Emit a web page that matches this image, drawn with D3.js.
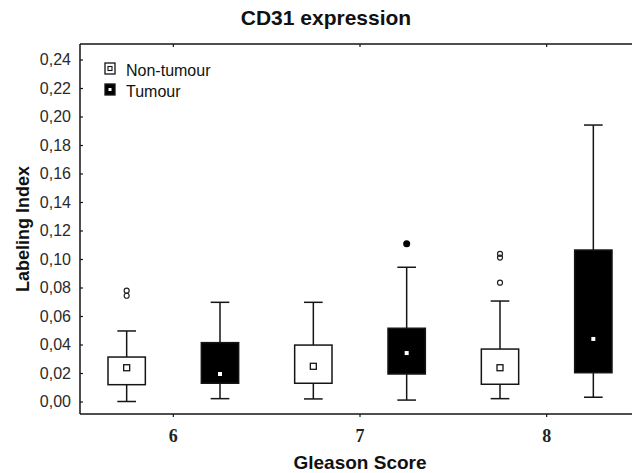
<!DOCTYPE html>
<html><head><meta charset="utf-8">
<script src="https://cdn.jsdelivr.net/npm/d3@7"></script>
<style>body{margin:0;background:#fff}svg{display:block}</style>
</head><body>
<script>
const groups = ['6','7','8'];
const series = ['Non-tumour','Tumour'];
const whiskerLow  = {'Non-tumour':[0.000,0.0018,0.002], 'Tumour':[0.002,0.001,0.003]};
const boxLow      = {'Non-tumour':[0.0118,0.0128,0.0121], 'Tumour':[0.0128,0.0193,0.0202]};
const medians     = {'Non-tumour':[0.0237,0.0247,0.0237], 'Tumour':[0.0193,0.034,0.0439]};
const boxHigh     = {'Non-tumour':[0.0312,0.0396,0.0368], 'Tumour':[0.0413,0.0514,0.1063]};
const whiskerHigh = {'Non-tumour':[0.0495,0.0696,0.0705], 'Tumour':[0.0696,0.0942,0.194]};
const outliers    = {'Non-tumour':[[0.0742,0.0778],[],[0.0834,0.1010,0.1036]], 'Tumour':[[],[0.1107],[]]};
const yTicks = [0,0.02,0.04,0.06,0.08,0.10,0.12,0.14,0.16,0.18,0.20,0.22,0.24];
const title = 'CD31 expression';
const xTitle = 'Gleason Score';
const yTitle = 'Labeling Index';

const W = 632, H = 473;
const L = 80, T = 44, B = 414, R = 640;
const svg = d3.select('body').append('svg').attr('width', W).attr('height', H);

const x = d3.scaleBand().domain(groups).range([L, R]).padding(0);
const xs = d3.scaleBand().domain(series).range([0, x.bandwidth()]).padding(0);
const y = d3.scaleLinear().domain([0, 0.24]).range([401.5, 59.5]);
const fmt = v => d3.format('.2f')(v).replace('.', ',');
const ink = '#151515';

// frame
svg.append('line').attr('x1', L).attr('x2', W).attr('y1', T).attr('y2', T).attr('stroke', ink).attr('stroke-width', 1.5);
svg.append('line').attr('x1', L).attr('x2', L).attr('y1', T).attr('y2', B).attr('stroke', ink).attr('stroke-width', 1.5);

// y axis
const yAxis = d3.axisLeft(y).tickValues(yTicks).tickFormat(fmt).tickSize(-3).tickPadding(9);
const gy = svg.append('g').attr('transform', `translate(${L},0)`).call(yAxis);
gy.select('.domain').remove();
gy.selectAll('line').attr('stroke', ink).attr('stroke-width', 1.2);
gy.selectAll('text').attr('font-family', 'Liberation Sans, Arial, sans-serif').attr('font-size', 16).attr('fill', '#2a2a2a');

// x axis
const xAxis = d3.axisBottom(x).tickSize(3).tickPadding(12);
const gx = svg.append('g').attr('transform', `translate(0,${B})`).call(xAxis);
gx.select('.domain').attr('d', `M${L},0H${W}`).attr('stroke', ink).attr('stroke-width', 1.5);
gx.selectAll('line').attr('stroke', ink).attr('stroke-width', 1.2);
gx.selectAll('text').attr('font-family', 'Liberation Serif, Times New Roman, serif').attr('font-weight', 'bold').attr('font-size', 18).attr('fill', '#222');

// top ticks
svg.append('g').selectAll('line').data(groups).join('line')
  .attr('x1', d => x(d) + x.bandwidth()/2).attr('x2', d => x(d) + x.bandwidth()/2)
  .attr('y1', T).attr('y2', T + 3).attr('stroke', ink).attr('stroke-width', 1.2);

// boxes
const boxW = xs.bandwidth() * 0.4, capW = boxW * 0.5;
series.forEach(s => {
  const tum = s === 'Tumour';
  groups.forEach((g, i) => {
    const cx = x(g) + xs(s) + xs.bandwidth()/2;
    const gg = svg.append('g');
    gg.append('line').attr('x1', cx).attr('x2', cx).attr('y1', y(whiskerLow[s][i])).attr('y2', y(boxLow[s][i])).attr('stroke', ink).attr('stroke-width', 1.5);
    gg.append('line').attr('x1', cx).attr('x2', cx).attr('y1', y(boxHigh[s][i])).attr('y2', y(whiskerHigh[s][i])).attr('stroke', ink).attr('stroke-width', 1.5);
    [whiskerLow[s][i], whiskerHigh[s][i]].forEach(v => {
      gg.append('line').attr('x1', cx - capW/2).attr('x2', cx + capW/2).attr('y1', y(v)).attr('y2', y(v)).attr('stroke', ink).attr('stroke-width', 1.5);
    });
    gg.append('rect').attr('x', cx - boxW/2).attr('width', boxW)
      .attr('y', y(boxHigh[s][i])).attr('height', y(boxLow[s][i]) - y(boxHigh[s][i]))
      .attr('fill', tum ? '#000' : '#fff').attr('stroke', ink).attr('stroke-width', 1.5);
    const ms = tum ? 4 : 6;
    gg.append('rect').attr('x', cx - ms/2).attr('y', y(medians[s][i]) - ms/2).attr('width', ms).attr('height', ms)
      .attr('fill', '#fff').attr('stroke', tum ? 'none' : ink).attr('stroke-width', 1.3);
    outliers[s][i].forEach(v => {
      gg.append('circle').attr('cx', cx).attr('cy', y(v)).attr('r', tum ? 3.5 : 2.5)
        .attr('fill', tum ? '#000' : 'none').attr('stroke', tum ? 'none' : '#222').attr('stroke-width', 1.2);
    });
  });
});

// legend
const lg = svg.append('g');
series.forEach((s, i) => {
  const tum = s === 'Tumour';
  const ly = 63 + i * 21;
  lg.append('rect').attr('x', 105).attr('y', ly).attr('width', 10).attr('height', 11)
    .attr('fill', tum ? '#000' : '#fff').attr('stroke', ink).attr('stroke-width', 1.3);
  const ms = tum ? 3 : 4;
  lg.append('rect').attr('x', 110 - ms/2).attr('y', ly + 5.5 - ms/2).attr('width', ms).attr('height', ms)
    .attr('fill', '#fff').attr('stroke', tum ? 'none' : ink).attr('stroke-width', 1.1);
  lg.append('text').attr('x', 126).attr('y', ly + 12.5).text(s)
    .attr('font-family', 'Liberation Sans, Arial, sans-serif').attr('font-size', 16).attr('fill', '#111');
});

// titles
svg.append('text').attr('x', 326).attr('y', 25).attr('text-anchor', 'middle').text(title)
  .attr('font-family', 'Liberation Sans, Arial, sans-serif').attr('font-weight', 'bold').attr('font-size', 21).attr('fill', '#111');
svg.append('text').attr('x', 360).attr('y', 469).attr('text-anchor', 'middle').text(xTitle)
  .attr('font-family', 'Liberation Sans, Arial, sans-serif').attr('font-weight', 'bold').attr('font-size', 19).attr('fill', '#111');
svg.append('text').attr('transform', 'translate(29,229) rotate(-90)').attr('text-anchor', 'middle').text(yTitle)
  .attr('font-family', 'Liberation Sans, Arial, sans-serif').attr('font-weight', 'bold').attr('font-size', 18).attr('fill', '#111');
</script>
</body></html>
